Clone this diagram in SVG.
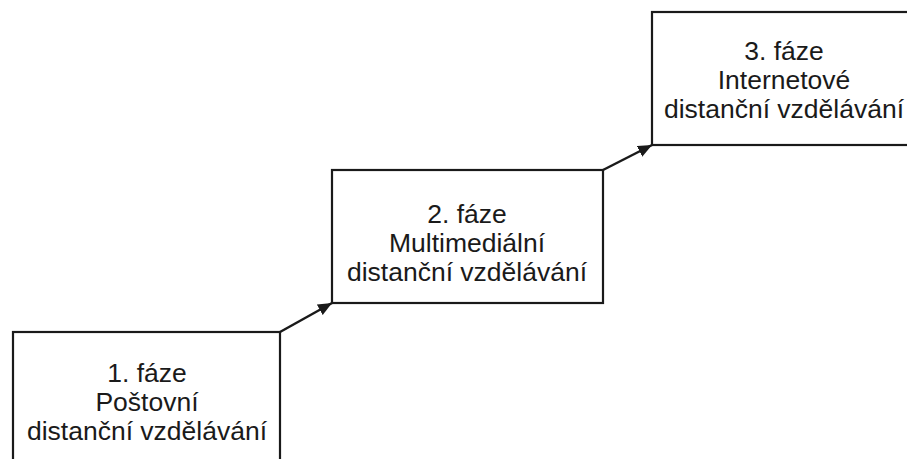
<svg xmlns="http://www.w3.org/2000/svg" width="907" height="459" viewBox="0 0 907 459">
<defs>
<marker id="arr" markerWidth="14" markerHeight="12" refX="14" refY="6" orient="auto" markerUnits="userSpaceOnUse">
<path d="M0,0 L14,6 L0,12 Z" fill="#1a1a1a"/>
</marker>
<style>
.box{fill:#fff;stroke:#1a1a1a;stroke-width:2.2}
.lbl{font-family:"Liberation Sans",Arial,sans-serif;font-size:26.5px;fill:#1a1a1a;text-anchor:middle}
.con{stroke:#1a1a1a;stroke-width:2.5;fill:none}
</style>
</defs>
<rect width="907" height="459" fill="#fff"/>
<g id="connectors">
<line class="con" x1="280" y1="332" x2="332" y2="303" marker-end="url(#arr)"/>
<line class="con" x1="603" y1="170" x2="652" y2="145" marker-end="url(#arr)"/>
</g>
<g id="node1">
<rect class="box" x="13" y="332" width="267" height="140"/>
<text class="lbl" x="147" y="382">1. fáze</text>
<text class="lbl" x="147" y="411">Poštovní</text>
<text class="lbl" x="147" y="440">distanční vzdělávání</text>
</g>
<g id="node2">
<rect class="box" x="332" y="170" width="271" height="133"/>
<text class="lbl" x="467" y="223">2. fáze</text>
<text class="lbl" x="467" y="252">Multimediální</text>
<text class="lbl" x="467" y="281">distanční vzdělávání</text>
</g>
<g id="node3">
<rect class="box" x="652" y="12" width="270" height="133"/>
<text class="lbl" x="784" y="60">3. fáze</text>
<text class="lbl" x="784" y="89">Internetové</text>
<text class="lbl" x="784" y="118">distanční vzdělávání</text>
</g>
</svg>
